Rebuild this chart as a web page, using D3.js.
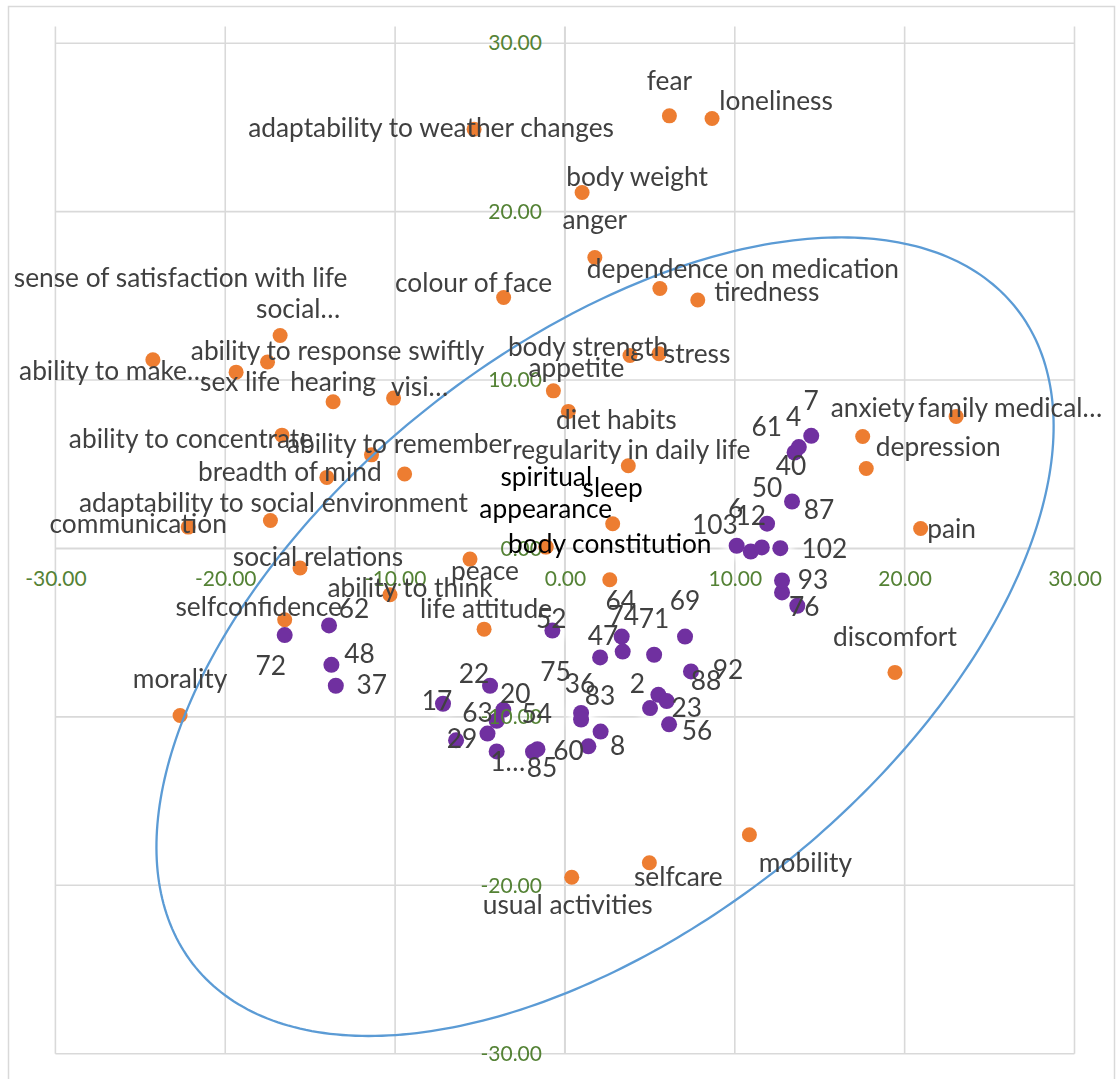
<!DOCTYPE html>
<html>
<head>
<meta charset="utf-8">
<script src="https://cdn.jsdelivr.net/npm/d3@7"></script>
<style>
  html, body { margin: 0; padding: 0; background: #ffffff; }
  svg { display: block; }
</style>
</head>
<body>
<svg id="chart" width="1117" height="1079"></svg>
<script>
// ---- Quality-of-life items (orange series) ----
const itemNames = [
  "fear", "loneliness", "adaptability to weather changes", "body weight", "anger",
  "dependence on medication", "tiredness", "colour of face", "social…",
  "sense of satisfaction with life", "ability to make…", "ability to response swiftly",
  "sex life", "hearing", "visi…", "ability to concentrate", "ability to remember",
  "breadth of mind", "adaptability to social environment", "communication",
  "social relations", "peace", "ability to think", "selfconfidence", "life attitude",
  "morality", "body strength", "stress", "appetite", "diet habits",
  "regularity in daily life", "spiritual", "sleep", "appearance", "body constitution",
  "anxiety", "family medical…", "depression", "pain", "discomfort", "mobility",
  "selfcare", "usual activities"
];
const itemX = [
  6.15, 8.66, -5.35, 1.01, 1.76, 5.59, 7.82, -3.61, -16.77, -9.44, -24.26, -17.51,
  -19.36, -13.65, -10.09, -16.66, -11.39, -14.02, -17.34, -22.18, -15.60, -5.59,
  -10.30, -16.50, -4.76, -22.66, 3.83, 5.54, -0.68, 0.20, 3.73, -1.10, 2.81, -1.13,
  2.64, 17.53, 23.03, 17.74, 20.94, 19.43, 10.86, 4.97, 0.40
];
const itemY = [
  25.69, 25.53, 24.90, 21.14, 17.28, 15.44, 14.75, 14.90, 12.65, 4.42, 11.21, 11.07,
  10.47, 8.71, 8.93, 6.73, 5.56, 4.22, 1.66, 1.27, -1.16, -0.63, -2.75, -4.23, -4.79,
  -9.92, 11.46, 11.56, 9.36, 8.14, 4.91, 0.10, 1.47, 0.08, -1.86, 6.65, 7.84, 4.75,
  1.19, -7.36, -17.00, -18.66, -19.52
];
// items whose labels are set in black instead of grey
const blackLabels = ["spiritual", "sleep", "appearance", "body constitution"];

// ---- Respondents (purple series) ----
const caseNames = [
  "7", "4", "61", "40", "50", "87", "6", "12", "103", "102", "93", "76", "52", "74",
  "64", "47", "71", "69", "92", "88", "2", "23", "56", "36", "83", "8", "60", "85",
  "75", "1…", "29", "63", "54", "20", "22", "17", "62", "72", "48", "37"
];
const caseX = [
  14.50, 13.52, 13.77, 13.37, 11.90, 12.78, 10.11, 10.94, 11.59, 12.68, 12.78, 13.68,
  -0.74, 3.34, 3.40, 2.07, 5.25, 7.07, 7.42, 5.01, 5.50, 5.99, 6.13, 0.95, 0.95, 2.10,
  1.38, -1.88, -1.62, -4.02, -6.41, -4.56, -4.02, -3.63, -4.41, -7.18, -13.89, -16.50,
  -13.75, -13.49
];
const caseY = [
  6.69, 5.70, 6.02, 2.79, 1.47, -2.61, 0.16, -0.18, 0.06, 0.02, -1.90, -3.40,
  -4.87, -5.23, -6.12, -6.47, -6.31, -5.23, -7.30, -9.48, -8.69, -9.06, -10.44, -9.77,
  -10.16, -10.87, -11.75, -12.07, -11.92, -12.05, -11.39, -10.99, -10.23, -9.58,
  -8.15, -9.22, -4.57, -5.14, -6.91, -8.15
];

// ---- Axis ticks ----
const xTicks = [-30, -20, -10, 0, 10, 20, 30];
const yTicks = [-30, -20, -10, 0, 10, 20, 30];

// ---- Confidence ellipse (data units, angle in degrees) ----
const ellipseCenter = [2.36, -5.24];
const ellipseRadii = [31.09, 17.12];
const ellipseAngle = 39.2;

// ---- Label placement: pixel offset of label centre / baseline from its marker ----
const itemLabelOffset = {
  "fear": [0, -26], "loneliness": [64, -9], "adaptability to weather changes": [-43, 8],
  "body weight": [55, -6], "anger": [0, -28], "dependence on medication": [83, -10],
  "tiredness": [69, 1], "colour of face": [-30, -6], "social…": [18, -17],
  "sense of satisfaction with life": [-224, -187], "ability to make…": [-40, 20],
  "ability to response swiftly": [70, -2], "sex life": [4, 19], "hearing": [0, -11],
  "visi…": [26, -2], "ability to concentrate": [-91, 13], "ability to remember": [28, -2],
  "breadth of mind": [-37, 4], "adaptability to social environment": [3, -9],
  "communication": [-50, 6], "social relations": [18, -2], "peace": [15, 21],
  "ability to think": [20, 2], "selfconfidence": [-26, -4], "life attitude": [2, -11],
  "morality": [0, -28], "body strength": [-42, 1], "stress": [38, 9], "appetite": [23, -14],
  "diet habits": [48, 18], "regularity in daily life": [3, -7], "spiritual": [0, -61],
  "sleep": [0, -27], "appearance": [0, -29], "body constitution": [0, -27],
  "anxiety": [10, -19], "family medical…": [54, 1], "depression": [72, -12],
  "pain": [31, 10], "discomfort": [0, -26], "mobility": [56, 37], "selfcare": [29, 23],
  "usual activities": [-4, 37]
};
const caseLabelOffset = {
  "7": [0, -26], "4": [-1, -26], "61": [-32, -11], "40": [-1, -26], "50": [0, -27],
  "87": [37, -73], "6": [-1, -28], "12": [0, -27], "103": [-47, -13], "102": [44, 10],
  "93": [31, 9], "76": [7, 10], "52": [-1, -2], "74": [2, -12], "64": [-2, -42],
  "47": [3, -12], "71": [0, -27], "69": [0, -27], "92": [37, 8], "88": [56, -18],
  "2": [-21, -2], "23": [20, 16], "56": [28, 16], "36": [-1, -20], "83": [19, -15],
  "8": [17, 23], "60": [-20, 14], "85": [9, 25], "75": [18, -68], "1…": [11, 20],
  "29": [6, 8], "63": [-10, -12], "54": [40, 2], "20": [12, -7], "22": [-16, -3],
  "17": [-6, 6], "62": [25, -7], "72": [-14, 40], "48": [28, -2], "37": [36, 8]
};

// ---- Styling ----
const ORANGE = "#ED7D31", PURPLE = "#7030A0", BLUE = "#5B9BD5";
const GRID = "#D9D9D9", TICK_GREEN = "#548235", TEXT_GREY = "#404040";
const LABEL_FONT = "Lato, 'Open Sans', sans-serif";
const LABEL_SIZE = 26.3, TICK_SIZE = 21;

const svg = d3.select("#chart");

// chart frame
svg.append("rect")
  .attr("x", 8.5).attr("y", 6.5).attr("width", 1106).attr("height", 1090)
  .attr("fill", "#ffffff").attr("stroke", GRID).attr("stroke-width", 1.5);

const x = d3.scaleLinear().domain([-30, 30]).range([55.4, 1074.5]);
const y = d3.scaleLinear().domain([-30, 31]).range([1053.7, 26.4]);

const fmt = d3.formatLocale({ decimal: ".", thousands: ",", grouping: [3], currency: ["", ""], minus: "-" }).format(".2f");

// gridlines
const grid = svg.append("g");
grid.selectAll("line.v").data(xTicks).join("line")
  .attr("x1", d => x(d)).attr("x2", d => x(d))
  .attr("y1", y(31)).attr("y2", y(-30))
  .attr("stroke", GRID).attr("stroke-width", d => d === 0 ? 2 : 1.6);
grid.selectAll("line.h").data(yTicks).join("line")
  .attr("y1", d => y(d)).attr("y2", d => y(d))
  .attr("x1", x(-30)).attr("x2", x(30))
  .attr("stroke", GRID).attr("stroke-width", d => d === 0 ? 2 : 1.6);

// soft white glow behind respondent markers
const defs = svg.append("defs");
defs.append("filter").attr("id", "glow").attr("x", "-100%").attr("y", "-100%")
  .attr("width", "300%").attr("height", "300%")
  .append("feGaussianBlur").attr("stdDeviation", 3.5);

const cases = caseNames.map((n, i) => ({ name: n, x: caseX[i], y: caseY[i] }));
const items = itemNames.map((n, i) => ({ name: n, x: itemX[i], y: itemY[i] }));

svg.append("g").attr("filter", "url(#glow)")
  .selectAll("circle").data(cases).join("circle")
  .attr("cx", d => x(d.x)).attr("cy", d => y(d.y)).attr("r", 13)
  .attr("fill", "#ffffff").attr("opacity", 0.85);

// markers
svg.append("g").selectAll("circle").data(items).join("circle")
  .attr("cx", d => x(d.x)).attr("cy", d => y(d.y)).attr("r", 7.5)
  .attr("fill", ORANGE);
svg.append("g").selectAll("circle").data(cases).join("circle")
  .attr("cx", d => x(d.x)).attr("cy", d => y(d.y)).attr("r", 8)
  .attr("fill", PURPLE);

// ellipse
const th = ellipseAngle * Math.PI / 180;
const ellPts = d3.range(0, 361, 1).map(a => {
  const t = a * Math.PI / 180;
  const ex = ellipseRadii[0] * Math.cos(t), ey = ellipseRadii[1] * Math.sin(t);
  return [ellipseCenter[0] + ex * Math.cos(th) - ey * Math.sin(th),
          ellipseCenter[1] + ex * Math.sin(th) + ey * Math.cos(th)];
});
svg.append("path")
  .datum(ellPts)
  .attr("d", d3.line().x(p => x(p[0])).y(p => y(p[1])).curve(d3.curveLinearClosed))
  .attr("fill", "none").attr("stroke", BLUE).attr("stroke-width", 2.3);

// axes (tick labels only; axis lines come from the gridlines)
const xAxis = svg.append("g").attr("transform", `translate(0,${y(0)})`)
  .call(d3.axisBottom(x).tickValues(xTicks).tickFormat(fmt).tickSize(0).tickPadding(23));
const yAxis = svg.append("g").attr("transform", `translate(${x(0)},0)`)
  .call(d3.axisLeft(y).tickValues(yTicks).tickFormat(fmt).tickSize(0).tickPadding(23));
[xAxis, yAxis].forEach(g => {
  g.select(".domain").remove();
  g.selectAll("text").attr("fill", TICK_GREEN).attr("font-family", LABEL_FONT).attr("font-size", TICK_SIZE);
});

// data labels
svg.append("g").selectAll("text").data(items).join("text")
  .attr("x", d => x(d.x) + itemLabelOffset[d.name][0])
  .attr("y", d => y(d.y) + itemLabelOffset[d.name][1])
  .attr("text-anchor", "middle")
  .attr("font-family", LABEL_FONT).attr("font-size", LABEL_SIZE)
  .attr("fill", d => blackLabels.includes(d.name) ? "#000000" : TEXT_GREY)
  .text(d => d.name);
svg.append("g").selectAll("text").data(cases).join("text")
  .attr("x", d => x(d.x) + caseLabelOffset[d.name][0])
  .attr("y", d => y(d.y) + caseLabelOffset[d.name][1])
  .attr("text-anchor", "middle")
  .attr("font-family", LABEL_FONT).attr("font-size", LABEL_SIZE)
  .attr("fill", TEXT_GREY)
  .text(d => d.name);
</script>
</body>
</html>
